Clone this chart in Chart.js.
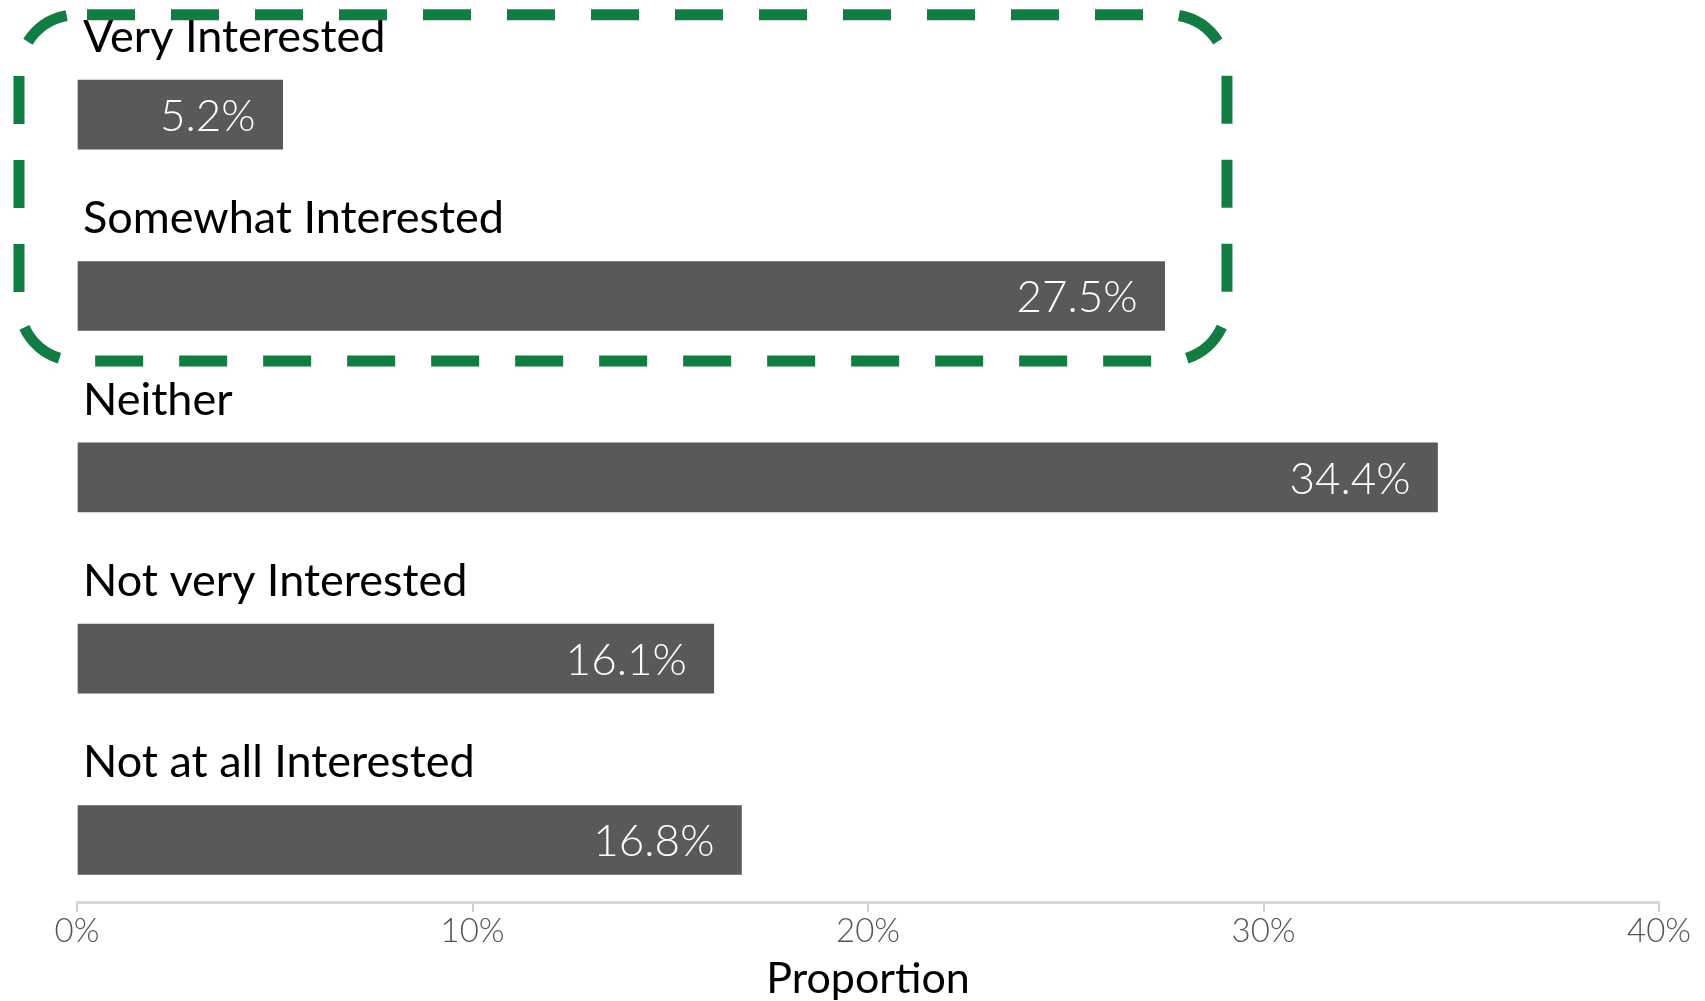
<!DOCTYPE html>
<html><head><meta charset="utf-8">
<script src="https://cdn.jsdelivr.net/npm/chart.js@4"></script>
<style>html,body{margin:0;padding:0;background:#fff;overflow:hidden}#wrap{width:1705px;height:1001px;position:relative}</style>
</head><body><div id="wrap"><canvas id="c" width="1705" height="1001"></canvas></div>
<script>
const categories = ['Very Interested', 'Somewhat Interested', 'Neither', 'Not very Interested', 'Not at all Interested'];
const values = [5.2, 27.5, 34.4, 16.1, 16.8];
const valueLabels = ['5.2%', '27.5%', '34.4%', '16.1%', '16.8%'];
const xTicks = [0, 10, 20, 30, 40];
const highlighted = [0, 1];
const highlightRight = 29;

const labelPlugin = {
  id: 'labels',
  afterDatasetsDraw(chart) {
    const ctx = chart.ctx;
    const meta = chart.getDatasetMeta(0);
    const xs = chart.scales.x;
    ctx.save();
    meta.data.forEach((bar, i) => {
      const top = bar.y - bar.height / 2;
      ctx.font = '45px Lato';
      ctx.fillStyle = '#000';
      ctx.textAlign = 'left';
      ctx.textBaseline = 'alphabetic';
      ctx.fillText(categories[i], xs.left + 6, top - 28);
      ctx.font = '300 44px Lato';
      ctx.fillStyle = '#fff';
      ctx.textAlign = 'right';
      ctx.textBaseline = 'middle';
      ctx.fillText(valueLabels[i], bar.x - 27, bar.y + 2);
    });
    ctx.restore();
  }
};

const boxPlugin = {
  id: 'box',
  afterDraw(chart) {
    const ctx = chart.ctx;
    const xs = chart.scales.x;
    const meta = chart.getDatasetMeta(0);
    const b0 = meta.data[highlighted[0]];
    const b1 = meta.data[highlighted[highlighted.length - 1]];
    const l = xs.left - 58, r = xs.getPixelForValue(highlightRight) + 3;
    const t = b0.y - 100, b = b1.y + 65;
    const rad = 58;
    ctx.save();
    ctx.strokeStyle = '#117D43';
    ctx.lineWidth = 11;
    ctx.setLineDash([48, 36]);
    ctx.lineDashOffset = -10;
    ctx.beginPath();
    ctx.moveTo(l + rad, t);
    ctx.lineTo(r - rad, t);
    ctx.arc(r - rad, t + rad, rad, -Math.PI / 2, 0);
    ctx.lineTo(r, b - rad);
    ctx.arc(r - rad, b - rad, rad, 0, Math.PI / 2);
    ctx.lineTo(l + rad, b);
    ctx.arc(l + rad, b - rad, rad, Math.PI / 2, Math.PI);
    ctx.lineTo(l, t + rad);
    ctx.arc(l + rad, t + rad, rad, Math.PI, Math.PI * 1.5);
    ctx.closePath();
    ctx.stroke();
    ctx.restore();
  }
};

new Chart(document.getElementById('c'), {
  type: 'bar',
  data: {
    datasets: [{
      data: values.map((v, i) => ({ x: v, y: i })),
      backgroundColor: '#595959',
      borderWidth: 0,
      barThickness: 69
    }]
  },
  options: {
    indexAxis: 'y',
    responsive: false,
    animation: false,
    events: [],
    layout: { padding: { left: 77, right: 46, top: 24, bottom: 0 } },
    plugins: { legend: { display: false }, tooltip: { enabled: false } },
    scales: {
      y: {
        type: 'linear',
        display: false,
        offset: false,
        grid: { offset: false },
        reverse: true,
        min: -0.5,
        max: 4.342
      },
      x: {
        type: 'linear',
        min: xTicks[0],
        max: xTicks[xTicks.length - 1],
        afterBuildTicks: (s) => { s.ticks = xTicks.map(v => ({ value: v })); },
        afterFit: (s) => { s.height = 99; },
        ticks: {
          callback: (v) => v + '%',
          font: { family: 'Lato', size: 33, weight: '300' },
          color: '#555555',
          padding: 0,
          maxRotation: 0
        },
        grid: { display: true, drawOnChartArea: false, drawTicks: true, tickLength: 10, color: '#D0D0D0', lineWidth: 2 },
        border: { display: true, color: '#D9D9D9', width: 3 },
        title: {
          display: true,
          text: 'Proportion',
          font: { family: 'Lato', size: 43, lineHeight: 1.0 },
          color: '#000',
          padding: { top: 0, bottom: 0 }
        }
      }
    }
  },
  plugins: [labelPlugin, boxPlugin]
});
</script>
</body></html>
